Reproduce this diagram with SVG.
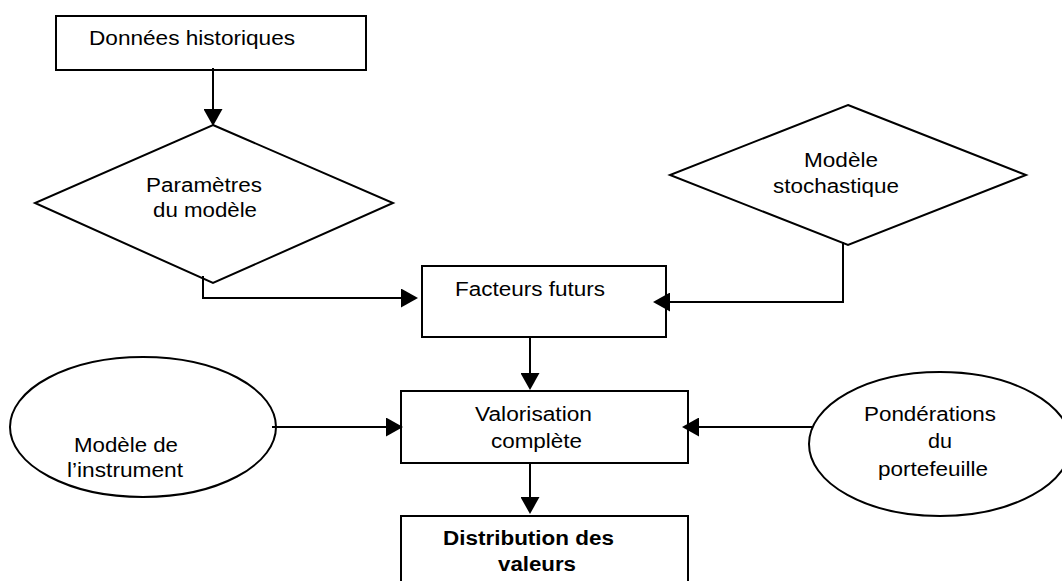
<svg xmlns="http://www.w3.org/2000/svg" width="1062" height="581" viewBox="0 0 1062 581">
  <style>
    .shape { fill: #ffffff; stroke: #000000; stroke-width: 2; }
    .link { fill: none; stroke: #000000; stroke-width: 2; }
    .lbl { font-family: "Liberation Sans", Arial, sans-serif; font-size: 20px; fill: #000000; }
    .bold { font-weight: bold; }
  </style>
  <defs>
    <marker id="head" viewBox="0 0 17 19" refX="13" refY="9.5" markerWidth="17" markerHeight="19" markerUnits="userSpaceOnUse" orient="auto">
      <path d="M0,0 L17,9.5 L0,19 Z" fill="#000000"/>
    </marker>
  </defs>
  <rect width="1062" height="581" fill="#ffffff"/>

  <g id="donnees-historiques">
    <rect class="shape" x="56" y="16" width="310" height="54"/>
    <text class="lbl" x="89" y="45" textLength="206" lengthAdjust="spacingAndGlyphs">Données historiques</text>
  </g>

  <g id="parametres-modele">
    <polygon class="shape" points="213,125 393,203 213,283 35,203"/>
    <text class="lbl" x="146" y="192" textLength="116" lengthAdjust="spacingAndGlyphs">Paramètres</text>
    <text class="lbl" x="153" y="217" textLength="104" lengthAdjust="spacingAndGlyphs">du modèle</text>
  </g>

  <g id="modele-stochastique">
    <polygon class="shape" points="848,105 1026,175 848,245 670,175"/>
    <text class="lbl" x="804" y="167" textLength="74" lengthAdjust="spacingAndGlyphs">Modèle</text>
    <text class="lbl" x="773" y="193" textLength="126" lengthAdjust="spacingAndGlyphs">stochastique</text>
  </g>

  <g id="facteurs-futurs">
    <rect class="shape" x="422" y="266" width="244" height="71"/>
    <text class="lbl" x="455" y="296" textLength="150" lengthAdjust="spacingAndGlyphs">Facteurs futurs</text>
  </g>

  <g id="modele-instrument">
    <ellipse class="shape" cx="143" cy="427" rx="133" ry="70"/>
    <text class="lbl" x="74" y="452" textLength="104" lengthAdjust="spacingAndGlyphs">Modèle de</text>
    <text class="lbl" x="67" y="477" textLength="116" lengthAdjust="spacingAndGlyphs">l’instrument</text>
  </g>

  <g id="valorisation-complete">
    <rect class="shape" x="401" y="391" width="287" height="72"/>
    <text class="lbl" x="475" y="421" textLength="117" lengthAdjust="spacingAndGlyphs">Valorisation</text>
    <text class="lbl" x="491" y="448" textLength="91" lengthAdjust="spacingAndGlyphs">complète</text>
  </g>

  <g id="ponderations-portefeuille">
    <ellipse class="shape" cx="940" cy="444" rx="131" ry="72"/>
    <text class="lbl" x="864" y="421" textLength="132" lengthAdjust="spacingAndGlyphs">Pondérations</text>
    <text class="lbl" x="928" y="448" textLength="24" lengthAdjust="spacingAndGlyphs">du</text>
    <text class="lbl" x="878" y="476" textLength="110" lengthAdjust="spacingAndGlyphs">portefeuille</text>
  </g>

  <g id="distribution-valeurs">
    <rect class="shape" x="401" y="516" width="287" height="80"/>
    <text class="lbl bold" x="443" y="545" textLength="171" lengthAdjust="spacingAndGlyphs">Distribution des</text>
    <text class="lbl bold" x="498" y="571" textLength="78" lengthAdjust="spacingAndGlyphs">valeurs</text>
  </g>

  <g id="connectors">
    <path class="link" d="M213,68 V122" marker-end="url(#head)"/>
    <path class="link" d="M203,276 V298 H414" marker-end="url(#head)"/>
    <path class="link" d="M843,242 V302 H657" marker-end="url(#head)"/>
    <path class="link" d="M530,337 V386" marker-end="url(#head)"/>
    <path class="link" d="M272,427 H399" marker-end="url(#head)"/>
    <path class="link" d="M813,427 H686" marker-end="url(#head)"/>
    <path class="link" d="M530,463 V510" marker-end="url(#head)"/>
  </g>
</svg>
